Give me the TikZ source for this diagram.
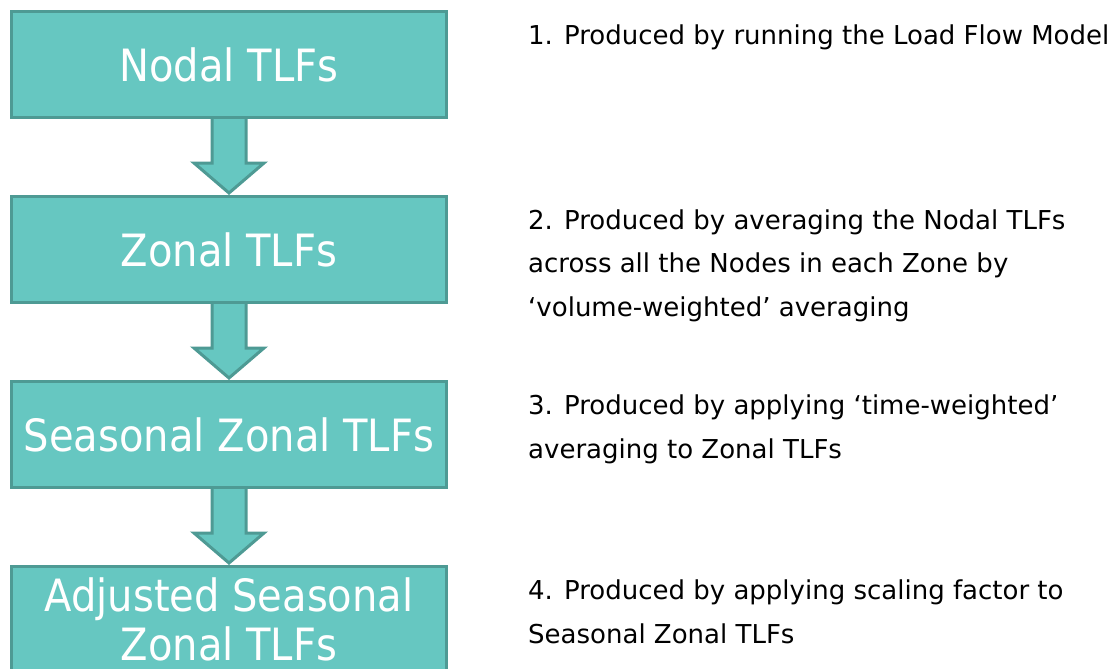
\documentclass[tikz,border=0pt]{standalone}
\usepackage{fontspec}
\setmainfont{DejaVu Sans}
\newfontfamily\stagefont{DejaVu Sans}[FakeStretch=0.9]
\usetikzlibrary{positioning,calc}

\definecolor{tlffill}{HTML}{66C7C1}
\definecolor{tlfdraw}{HTML}{4E9A94}

\begin{document}
\begin{tikzpicture}[%
    x=1pt, y=-1pt,
    node distance=185pt,
    on grid,
    stage/.style={draw=tlfdraw, fill=tlffill, line width=3pt,
      minimum width=435pt, minimum height=106pt, inner sep=0pt,
      text=white, align=center,
      font=\stagefont\fontsize{44.5}{49}\selectfont},
    note/.style={anchor=base west, align=left, inner sep=0pt,
      font=\fontsize{26}{43.5}\selectfont},
    flow/.style={draw=tlfdraw, fill=tlffill, line width=3pt}
  ]
    \useasboundingbox (0,0) rectangle (1117,669);

    \node[stage] (nodal) at (229,64.5) {Nodal TLFs};
    \node[stage] (zonal) [below=of nodal] {Zonal TLFs};
    \node[stage] (seasonal) [below=of zonal] {Seasonal Zonal TLFs};
    \node[stage] (adjusted) [below=of seasonal] {Adjusted Seasonal\\Zonal TLFs};

    % block arrows between the stages
    \foreach \a/\b in {nodal/zonal, zonal/seasonal, seasonal/adjusted}
      \path[flow] ($(\a.south)+(-17,0)$) -- ++(0,44) -- ++(-18,0)
        -- ($(\b.north)+(0,-2)$) -- ($(\a.south)+(35,44)$) -- ++(-18,0)
        -- ($(\a.south)+(17,0)$);

    % notes, placed by the baseline of their last line
    \node[note] (n1) at (528,45) {1. Produced by running the Load Flow Model};
    \node[note] (n2) at (528,316) {2. Produced by averaging the Nodal TLFs\\
      across all the Nodes in each Zone by\\`volume-weighted' averaging};
    \node[note] (n3) at (528,458) {3. Produced by applying `time-weighted'\\
      averaging to Zonal TLFs};
    \node[note] (n4) at (528,643) {4. Produced by applying scaling factor to\\
      Seasonal Zonal TLFs};
\end{tikzpicture}
\end{document}
